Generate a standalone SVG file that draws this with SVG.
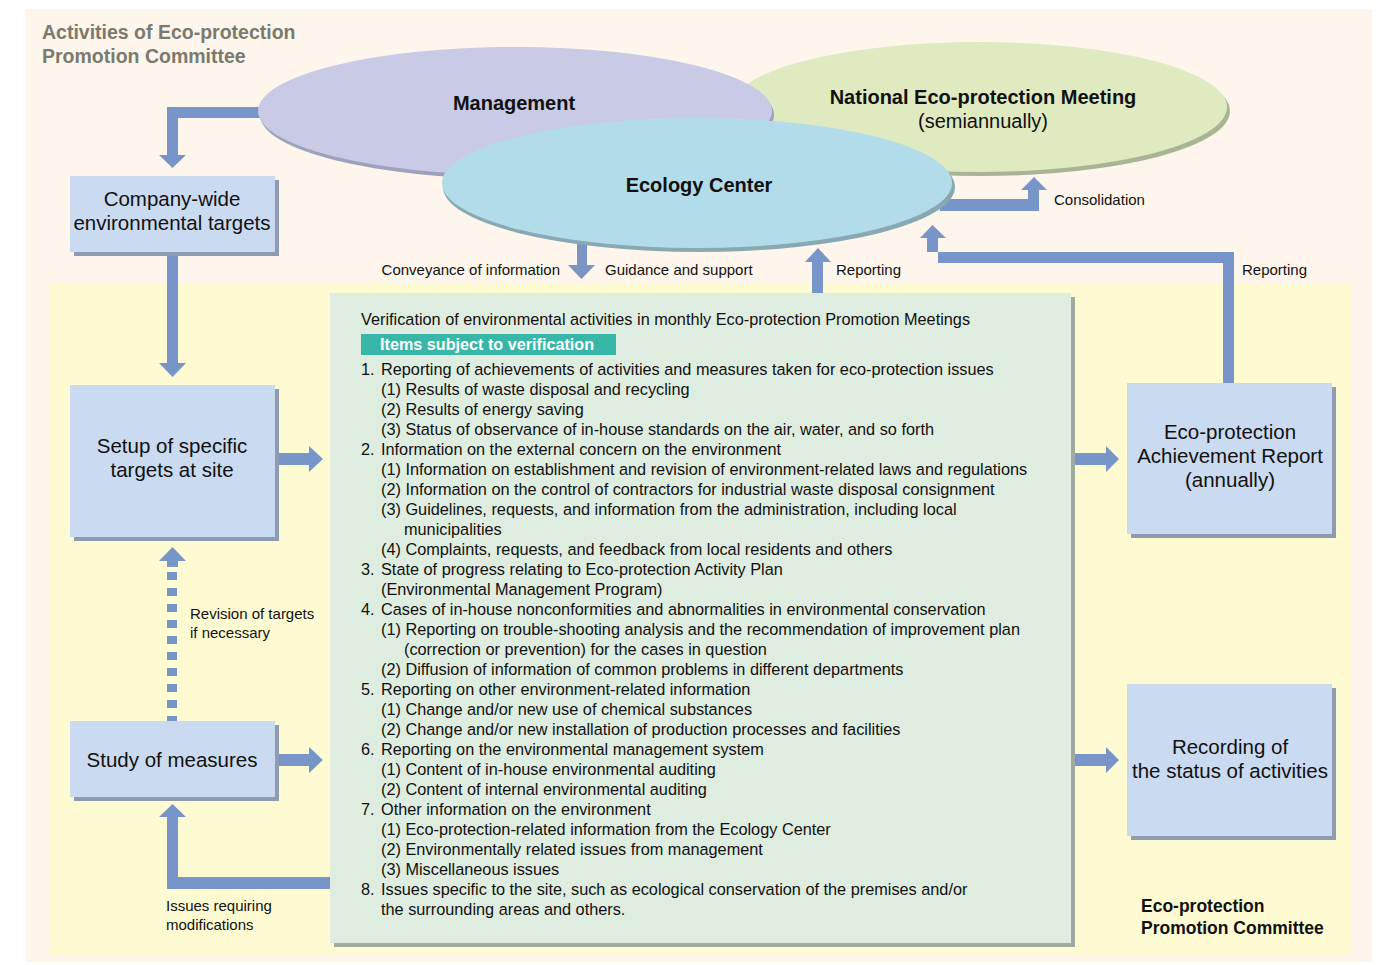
<svg xmlns="http://www.w3.org/2000/svg" width="1380" height="965" viewBox="0 0 1380 965">
  <style>
    text { font-family: "Liberation Sans", Arial, sans-serif; fill: #111; }
    .title { font-size: 19.5px; font-weight: bold; fill: #7b7a6c; }
    .ell { font-size: 20px; font-weight: bold; }
    .ellsub { font-size: 20px; }
    .box { font-size: 20.5px; text-anchor: middle; }
    .lbl { font-size: 15px; }
    .body { font-size: 16.3px; }
    .tag { font-size: 16.2px; font-weight: bold; fill: #fff; }
    .com { font-size: 17.5px; font-weight: bold; }
    .arrow { fill: #7895c9; }
    .bx { fill: #cadaf0; }
    .bxs { fill: #8f9bb1; }
  </style>

  <!-- backgrounds -->
  <rect x="26" y="9" width="1346" height="953" fill="#fef6ec"/>
  <rect x="50" y="283" width="1302" height="672" fill="#fefbd3"/>
  <text class="title" x="42" y="39">Activities of Eco-protection</text>
  <text class="title" x="42" y="63">Promotion Committee</text>

  <!-- connectors -->
  <g id="connectors">
    <!-- Management to company-wide targets -->
    <path class="arrow" d="M262,107 H167 V155 H159 L172.5,168 L186,155 H178 V118 H262 Z"/>
    <!-- company-wide targets to site targets -->
    <path class="arrow" d="M167,252 V363 H159 L172.5,377 L186,363 H178 V252 Z"/>
    <!-- site targets to verification -->
    <path class="arrow" d="M279,453 H309 V446 L323,459 L309,472 V465 H279 Z"/>
    <!-- revision of targets (dashed) -->
    <line x1="172" y1="572" x2="172" y2="721" stroke="#7895c9" stroke-width="10" stroke-dasharray="8 8"/>
    <path class="arrow" d="M167,567 V561 H159 L172.5,547 L186,561 H178 V567 Z"/>
    <!-- study of measures to verification -->
    <path class="arrow" d="M279,754 H309 V747 L323,760 L309,773 V766 H279 Z"/>
    <!-- issues requiring modifications -->
    <path class="arrow" d="M334,877 H178 V817 H186 L172.5,804 L159,817 H167 V889 H334 Z"/>
    <!-- conveyance / guidance -->
    <path class="arrow" d="M577,240 V265 H568 L581.5,279 L595,265 H587 V240 Z" style="fill:#7a95c3"/>
    <!-- reporting to ecology center -->
    <path class="arrow" d="M812,297 V262 H805 L818,248 L831,262 H823 V297 Z"/>
    <!-- consolidation -->
    <path class="arrow" d="M940,199 H1028 V190 H1021 L1034,177 L1047,190 H1039 V211 H940 Z"/>
    <!-- reporting from achievement report -->
    <path class="arrow" d="M1223,387 V263 H938 V238 H946 L932.5,225 L920,238 H927 V252 H1234 V387 Z"/>
    <!-- verification to achievement report -->
    <path class="arrow" d="M1075,453 H1106 V446 L1119,459 L1106,472 V465 H1075 Z"/>
    <!-- verification to recording -->
    <path class="arrow" d="M1075,754 H1106 V747 L1119,760 L1106,773 V766 H1075 Z"/>
  </g>

  <!-- upper bodies -->
  <g id="national-meeting">
    <ellipse cx="982" cy="111" rx="248" ry="65" fill="#a8b493"/>
    <ellipse cx="979" cy="107" rx="248" ry="65" fill="#dfeac0"/>
    <text class="ell" x="983" y="104" text-anchor="middle">National Eco-protection Meeting</text>
    <text class="ellsub" x="983" y="128" text-anchor="middle">(semiannually)</text>
  </g>
  <g id="management">
    <ellipse cx="517" cy="115" rx="257" ry="64" fill="#9fa1bb"/>
    <ellipse cx="515" cy="111" rx="257" ry="64" fill="#c8cae6"/>
    <text class="ell" x="514" y="110" text-anchor="middle">Management</text>
  </g>
  <g id="ecology-center">
    <ellipse cx="699" cy="187" rx="256" ry="65" fill="#88a9b3"/>
    <ellipse cx="697" cy="183" rx="255" ry="65" fill="#b3dcea"/>
    <text class="ell" x="699" y="192" text-anchor="middle">Ecology Center</text>
  </g>

  <!-- left column -->
  <g id="company-wide-targets">
    <rect class="bxs" x="74" y="180" width="205" height="76"/>
    <rect class="bx" x="70" y="176" width="205" height="76"/>
    <text class="box" x="172" y="206">Company-wide</text>
    <text class="box" x="172" y="230">environmental targets</text>
  </g>
  <g id="site-targets">
    <rect class="bxs" x="74" y="389" width="205" height="152"/>
    <rect class="bx" x="70" y="385" width="205" height="152"/>
    <text class="box" x="172" y="453">Setup of specific</text>
    <text class="box" x="172" y="477">targets at site</text>
  </g>
  <g id="study-of-measures">
    <rect class="bxs" x="74" y="725" width="205" height="76"/>
    <rect class="bx" x="70" y="721" width="205" height="76"/>
    <text class="box" x="172" y="767">Study of measures</text>
  </g>
  <g id="connector-labels">
    <text class="lbl" x="190" y="619">Revision of targets</text>
    <text class="lbl" x="190" y="638">if necessary</text>
    <text class="lbl" x="166" y="911">Issues requiring</text>
    <text class="lbl" x="166" y="930">modifications</text>
    <text class="lbl" x="560" y="275" text-anchor="end">Conveyance of information</text>
    <text class="lbl" x="605" y="275">Guidance and support</text>
    <text class="lbl" x="836" y="275">Reporting</text>
    <text class="lbl" x="1054" y="205">Consolidation</text>
    <text class="lbl" x="1242" y="275">Reporting</text>
  </g>

  <!-- monthly verification -->
  <g id="verification">
    <rect x="334" y="297" width="741" height="650" fill="#a0ab9f"/>
    <rect x="330" y="293" width="741" height="650" fill="#dfede0"/>
    <text class="body" x="361" y="325">Verification of environmental activities in monthly Eco-protection Promotion Meetings</text>
    <rect x="361" y="334" width="255" height="21" fill="#38b7a8"/>
    <text class="tag" x="380" y="350">Items subject to verification</text>
    <g class="body">
      <text x="361" y="375">1.</text><text x="381" y="375">Reporting of achievements of activities and measures taken for eco-protection issues</text>
      <text x="381" y="395">(1) Results of waste disposal and recycling</text>
      <text x="381" y="415">(2) Results of energy saving</text>
      <text x="381" y="435">(3) Status of observance of in-house standards on the air, water, and so forth</text>
      <text x="361" y="455">2.</text><text x="381" y="455">Information on the external concern on the environment</text>
      <text x="381" y="475">(1) Information on establishment and revision of environment-related laws and regulations</text>
      <text x="381" y="495">(2) Information on the control of contractors for industrial waste disposal consignment</text>
      <text x="381" y="515">(3) Guidelines, requests, and information from the administration, including local</text>
      <text x="404" y="535">municipalities</text>
      <text x="381" y="555">(4) Complaints, requests, and feedback from local residents and others</text>
      <text x="361" y="575">3.</text><text x="381" y="575">State of progress relating to Eco-protection Activity Plan</text>
      <text x="381" y="595">(Environmental Management Program)</text>
      <text x="361" y="615">4.</text><text x="381" y="615">Cases of in-house nonconformities and abnormalities in environmental conservation</text>
      <text x="381" y="635">(1) Reporting on trouble-shooting analysis and the recommendation of improvement plan</text>
      <text x="404" y="655">(correction or prevention) for the cases in question</text>
      <text x="381" y="675">(2) Diffusion of information of common problems in different departments</text>
      <text x="361" y="695">5.</text><text x="381" y="695">Reporting on other environment-related information</text>
      <text x="381" y="715">(1) Change and/or new use of chemical substances</text>
      <text x="381" y="735">(2) Change and/or new installation of production processes and facilities</text>
      <text x="361" y="755">6.</text><text x="381" y="755">Reporting on the environmental management system</text>
      <text x="381" y="775">(1) Content of in-house environmental auditing</text>
      <text x="381" y="795">(2) Content of internal environmental auditing</text>
      <text x="361" y="815">7.</text><text x="381" y="815">Other information on the environment</text>
      <text x="381" y="835">(1) Eco-protection-related information from the Ecology Center</text>
      <text x="381" y="855">(2) Environmentally related issues from management</text>
      <text x="381" y="875">(3) Miscellaneous issues</text>
      <text x="361" y="895">8.</text><text x="381" y="895">Issues specific to the site, such as ecological conservation of the premises and/or</text>
      <text x="381" y="915">the surrounding areas and others.</text>
    </g>
  </g>

  <!-- right column -->
  <g id="achievement-report">
    <rect class="bxs" x="1131" y="387" width="205" height="151"/>
    <rect class="bx" x="1127" y="383" width="205" height="151"/>
    <text class="box" x="1230" y="439">Eco-protection</text>
    <text class="box" x="1230" y="463">Achievement Report</text>
    <text class="box" x="1230" y="487">(annually)</text>
  </g>
  <g id="activity-recording">
    <rect class="bxs" x="1131" y="688" width="205" height="152"/>
    <rect class="bx" x="1127" y="684" width="205" height="152"/>
    <text class="box" x="1230" y="754">Recording of</text>
    <text class="box" x="1230" y="778">the status of activities</text>
  </g>
  <text class="com" x="1141" y="912">Eco-protection</text>
  <text class="com" x="1141" y="934">Promotion Committee</text>
</svg>
